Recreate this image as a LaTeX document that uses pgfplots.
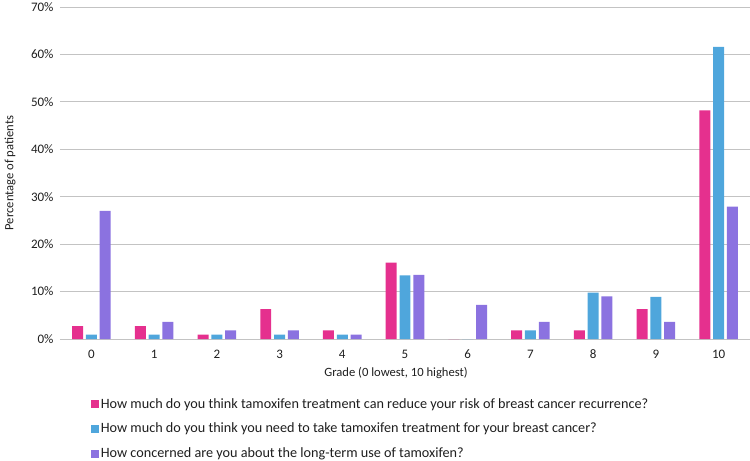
\documentclass[border=0pt]{standalone}
\usepackage{pgfplots}
\pgfplotsset{compat=1.18}
\usepackage{fontspec}
\setmainfont{Carlito}
\definecolor{cpink}{HTML}{E5308E}
\definecolor{cblue}{HTML}{4FA6DC}
\definecolor{cpurple}{HTML}{8B72E0}
\definecolor{cgrid}{HTML}{C3C3C3}
\definecolor{ctext}{HTML}{1F1F1F}
\begin{document}
\begin{tikzpicture}
\begin{axis}[
  scale only axis,
  width=690bp, height=332bp,
  xmin=-0.5, xmax=10.5,
  ymin=0, ymax=70,
  ybar, bar width=0.175,
  xtick={0,...,10},
  ytick={0,10,...,70},
  yticklabel={\pgfmathprintnumber{\tick}\%},
  /pgf/number format/assume math mode=true,
  tick style={draw=none},
  ymajorgrids, grid style={cgrid, line width=0.9pt},
  axis line style={draw=none},
  every axis label/.append style={text=ctext},
  ticklabel style={text=ctext, font=\fontsize{13bp}{15bp}\selectfont},
  yticklabel style={xshift=-3bp},
  xticklabel style={yshift=-3bp},
  label style={font=\fontsize{12.6bp}{15bp}\selectfont},
  xlabel={Grade (0 lowest, 10 highest)},
  ylabel={Percentage of patients},
  xlabel style={at={(axis description cs:0.487,0)}, anchor=center, yshift=-34bp},
  ylabel style={at={(axis description cs:-0.0725,0.5)}, anchor=center},
  legend style={at={(0.45,-0.172)}, anchor=north, draw=none, legend columns=1,
    row sep=9.5bp, cells={anchor=west, text=ctext}, font=\fontsize{14.2bp}{16bp}\selectfont,
    inner sep=0pt},
  legend image code/.code={\fill[#1] (0bp,-4bp) rectangle (8bp,4bp);},
]
\addplot[fill=cpink, draw=none, bar shift=-0.22] coordinates {(0,2.7)(1,2.7)(2,0.9)(3,6.3)(4,1.8)(5,16.1)(6,0)(7,1.8)(8,1.8)(9,6.3)(10,48.2)};
\addplot[fill=cblue, draw=none, bar shift=0] coordinates {(0,0.9)(1,0.9)(2,0.9)(3,0.9)(4,0.9)(5,13.4)(6,0)(7,1.8)(8,9.8)(9,8.9)(10,61.6)};
\addplot[fill=cpurple, draw=none, bar shift=0.22] coordinates {(0,27.0)(1,3.6)(2,1.8)(3,1.8)(4,0.9)(5,13.5)(6,7.2)(7,3.6)(8,9.0)(9,3.6)(10,27.9)};
\legend{How much do you think tamoxifen treatment can reduce your risk of breast cancer recurrence?,
How much do you think you need to take tamoxifen treatment for your breast cancer?,
How concerned are you about the long-term use of tamoxifen?}
\end{axis}
\pgfresetboundingbox
\path (current axis.south west) ++(-60bp,-122bp) rectangle ++(750bp,461bp);
\end{tikzpicture}
\end{document}
